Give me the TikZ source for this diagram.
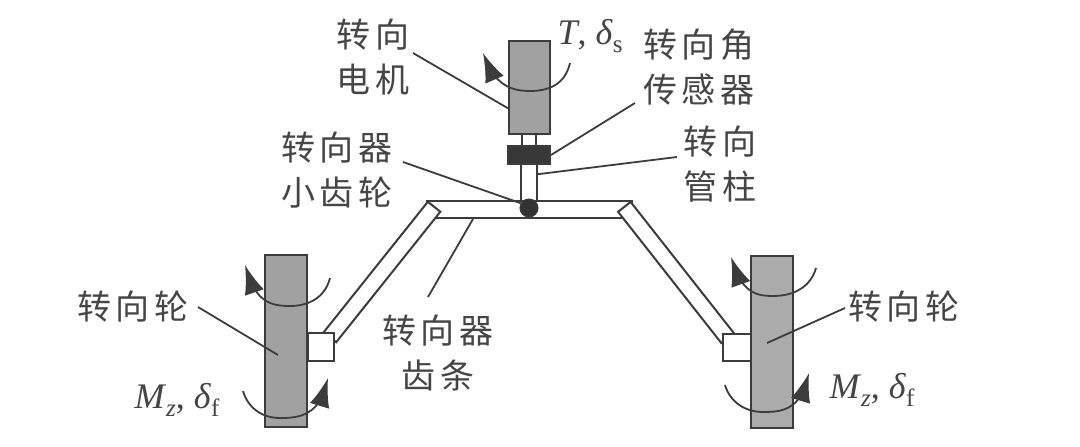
\documentclass[tikz,border=0pt]{standalone}
\usepackage{amsmath,amssymb}
\usepackage{fontspec}
\usepackage{xcolor}
\usepackage{tikz}
\usetikzlibrary{arrows.meta, bending}
\setmainfont{Liberation Serif}
\newfontfamily\cjk[LetterSpace=12]{Noto Sans CJK SC}
\definecolor{inkgray}{HTML}{3C3C3C}
\definecolor{textgray}{HTML}{454545}
\newcommand{\lowsub}[1]{\raisebox{-0.2em}{\fontsize{25}{25}\selectfont #1}}

\begin{document}
\begin{tikzpicture}[
    x=1pt, y=-1pt,
    part/.style={rectangle, draw=inkgray, line width=2pt, inner sep=0pt, fill=white},
    leader/.style={draw=inkgray, line width=1.8pt},
    turn/.style={draw=inkgray, line width=1.8pt, -{Latex[length=29pt, width=20pt, flex=0.6]}},
    lab/.style={align=center, text=textgray, font=\fontsize{34}{45}\selectfont\cjk, inner sep=0pt},
    sym/.style={text=textgray, font=\fontsize{36}{38}\selectfont, inner sep=0pt}
]
\useasboundingbox (0,0) rectangle (1080,447);

% rack and tie rods
\node[part, minimum width=205pt, minimum height=17pt] (rack) at (529.5,209.5) {};
\node[part, minimum width=167pt, minimum height=16pt, rotate=51.4] (armL) at (382,272) {};
\node[part, minimum width=167pt, minimum height=16pt, rotate=-51.8] (armR) at (676,272.5) {};

% steering column
\node[part, minimum width=14pt, minimum height=14pt] (shaft) at (529,140) {};
\node[part, minimum width=16pt, minimum height=38pt] (column) at (529,182) {};
\node[part, fill=black!37, minimum width=41pt, minimum height=93pt] (motor) at (529.5,87.5) {};
\node[part, fill=black!78, minimum width=42pt, minimum height=18pt] (sensor) at (529,155) {};
\node[circle, draw=inkgray, fill=black!80, line width=1pt, minimum size=18pt, inner sep=0pt] (pinion) at (529,208) {};

% wheels
\node[part, minimum width=26pt, minimum height=28pt] (knuckleL) at (321,347) {};
\node[part, minimum width=28pt, minimum height=27pt] (knuckleR) at (737,347.5) {};
\node[part, fill=black!37, minimum width=42pt, minimum height=172pt] (wheelL) at (286,341) {};
\node[part, fill=black!33, minimum width=42pt, minimum height=172pt] (wheelR) at (772,342) {};

% labels
\node[lab] (motorlab) at (373,57.5) {转向\\电机};
\node[lab] (sensorlab) at (699,67) {转向角\\传感器};
\node[lab] (columnlab) at (720,164.5) {转向\\管柱};
\node[lab] (pinionlab) at (337,170.5) {转向器\\小齿轮};
\node[lab] (racklab) at (438,352.5) {转向器\\齿条};
\node[lab] (wheelLlab) at (133,307) {转向轮};
\node[lab] (wheelRlab) at (904,307) {转向轮};
\node[sym] (torque) at (590,36) {\textit{T}, \textit{δ}\lowsub{s}};
\node[sym] (momentL) at (177,400) {\textit{M}\lowsub{\textit{z}}, \textit{δ}\lowsub{f}};
\node[sym] (momentR) at (872,390) {\textit{M}\lowsub{\textit{z}}, \textit{δ}\lowsub{f}};

\coordinate (motorend) at (413,53);
\coordinate (sensorend) at (635,103);
\coordinate (columnend) at (677,157);
\coordinate (pinionend) at (403,162);
\coordinate (rackend) at (428,297);
\coordinate (wheelLend) at (198,307);
\coordinate (wheelRend) at (845,308);
\coordinate (rackin) at (473,219);
\coordinate (wheelLin) at (278,355);
\coordinate (wheelRin) at (767,343);

\draw[leader] (motorend) -- (motor.224);
\draw[leader] (sensorend) -- (sensor.east);
\draw[leader] (columnend) -- (column.41);
\draw[leader] (pinionend) -- (pinion.150);
\draw[leader] (rackend) -- (rackin);
\draw[leader] (wheelLend) -- (wheelLin);
\draw[leader] (wheelRend) -- (wheelRin);

% rotation arrows
\draw[turn] (570,63) .. controls (565,85) and (548,91) .. (530,91) .. controls (512,91) and (494,86) .. (483,53);
\draw[turn] (330,278) .. controls (325,298) and (308,306) .. (290,306) .. controls (270,306) and (255,302) .. (245,265);
\draw[turn] (243,391) .. controls (248,408) and (262,418) .. (280,418) .. controls (300,418) and (320,416) .. (328,378);
\draw[turn] (816,268) .. controls (811,286) and (795,296) .. (773,296) .. controls (755,296) and (741,292) .. (731,257);
\draw[turn] (725,385) .. controls (730,402) and (745,412) .. (763,412) .. controls (783,412) and (801,410) .. (809,373);

\end{tikzpicture}
\end{document}
